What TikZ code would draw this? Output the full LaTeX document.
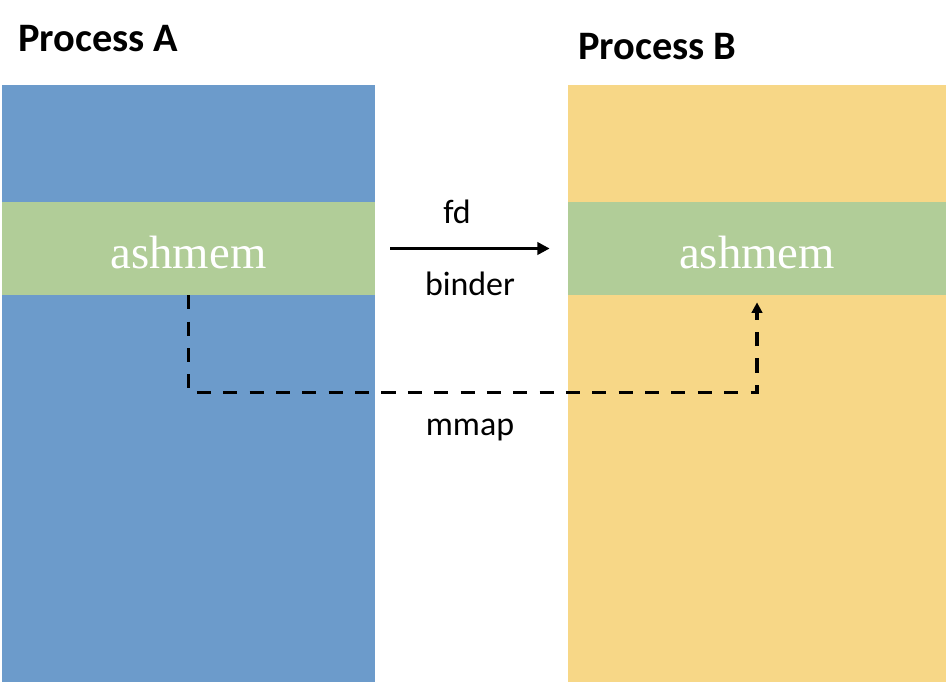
\documentclass[tikz,border=0pt]{standalone}
\usepackage{fontspec}
\setmainfont{Carlito}
\newfontfamily\memfont{Liberation Serif}
\usetikzlibrary{arrows.meta}
\definecolor{procblue}{HTML}{6C9BCB}
\definecolor{procyellow}{HTML}{F7D787}
\definecolor{memgreen}{HTML}{B1CD98}

\begin{document}
\begin{tikzpicture}[
		title/.style={anchor=base west, font=\fontsize{23}{26}\selectfont\bfseries},
		lbl/.style={anchor=base, font=\fontsize{19.3}{22}\selectfont},
		band/.style={fill=memgreen, minimum width=7.5cm, minimum height=1.86cm, inner sep=0pt,
			text height=22.7pt, text depth=0pt, text=white, font=\fontsize{26.6}{30}\memfont}
	]
			%%%%% START %%%%%
			
			\useasboundingbox (0, 0) rectangle (18.92, 13.64);
			
			% process A
			\fill[procblue] (0.04, 0) rectangle (7.5, 11.94);
			\node[band, minimum width=7.46cm] (memA) at (3.77, 8.67) {ashmem};
			\node[title] (procA) at (0.24, 12.6) {Process A};
			
			% process B
			\fill[procyellow] (11.36, 0) rectangle (18.92, 11.94);
			\node[band, minimum width=7.56cm] (memB) at (15.14, 8.67) {ashmem};
			\node[title] (procB) at (11.44, 12.45) {Process B};
			
			\draw[line width=1.7pt, -{Triangle[length=7pt, width=7pt]}] ([xshift=0.3cm]memA.east) -- ([xshift=-0.36cm]memB.west);
			\node[lbl] (fd) at (9.14, 9.18) {fd};
			\node[lbl] (binder) at (9.4, 7.74) {binder};
			
			\draw[line width=1.9pt, dash pattern=on 8pt off 7pt, -{Triangle[length=6pt, width=6pt]}] (memA.south) -- ++(0, -1.94) -| ([yshift=-0.14cm]memB.south);
			\node[lbl] (mmap) at (9.4, 4.94) {mmap};
			
			%%%%% END %%%%%
\end{tikzpicture}
\end{document}
